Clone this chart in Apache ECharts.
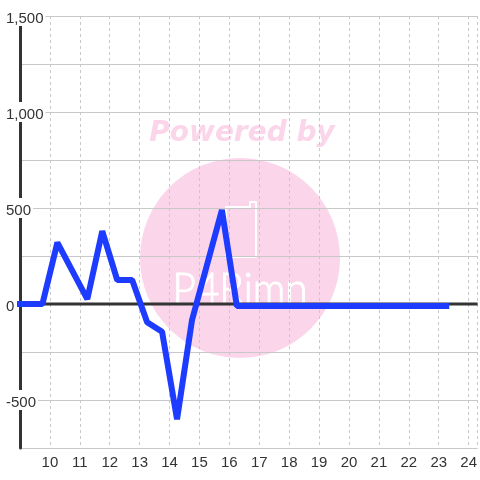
<!DOCTYPE html>
<html>
<head>
<meta charset="utf-8">
<script src="https://cdn.jsdelivr.net/npm/echarts@6/dist/echarts.min.js"></script>
<style>html,body{margin:0;padding:0;background:#fff}#c{width:480px;height:480px}</style>
</head>
<body>
<div id="c"></div>
<script>
// ---- data ----
const xValues = [9, 9.75, 10.25, 11.25, 11.75, 12.25, 12.75, 13.25, 13.75, 14.25, 14.75, 15.75, 16.25, 23.25];
const yValues = [0, 0, 320, 25, 380, 125, 125, -95, -145, -600, -85, 490, -10, -10];
const xMin = 9, xMax = 24.3, xStep = 1;
const yMin = -750, yMax = 1500, yStep = 250, yLabelStep = 500;
const zeroLineX = [xMin, xMax];
const zeroLineY = [0, 0];

const seriesData = xValues.map((x, i) => [x, yValues[i]]);
const zeroData = zeroLineX.map((x, i) => [x, zeroLineY[i]]);

const chart = echarts.init(document.getElementById('c'), null, {renderer: 'canvas'});
const font = "'Liberation Sans', Arial, sans-serif";
chart.setOption({
  backgroundColor: '#ffffff',
  animation: false,
  grid: {left: 20, right: 0, top: 16, bottom: 32, containLabel: false},
  graphic: [
    {type: 'circle', z: -10, shape: {cx: 240, cy: 258, r: 100}, style: {fill: '#fbd5ea'}},
    {type: 'text', z: -10, x: 242, y: 134, style: {text: 'Powered by', fill: '#fbd5ea', font: "italic bold 28px 'DejaVu Sans'", textAlign: 'center', textVerticalAlign: 'middle'}},
    {type: 'polygon', z: -9, shape: {points: [[226,207],[250,207],[250,202],[256,202],[256,257],[226,257]]}, style: {fill: 'none', stroke: '#ffffff', lineWidth: 2, lineJoin: 'round'}},
    {type: 'text', z: -9, x: 240, y: 290, scaleX: 0.92, originX: 0, originY: 0, style: {text: 'P4Rimn', fill: '#ffffff', stroke: '#ffffff', lineWidth: 1, font: "300 44px 'Lato'", textAlign: 'center', textVerticalAlign: 'middle'}}
  ],
  xAxis: {
    type: 'value', min: xMin, max: xMax, interval: xStep,
    axisLine: {show: false}, axisTick: {show: false},
    axisLabel: {showMinLabel: false, showMaxLabel: false, color: '#333', fontSize: 15, fontFamily: font, margin: 7},
    splitLine: {show: true, lineStyle: {color: '#c8c8c8', width: 1, type: [3, 3]}}
  },
  yAxis: {
    type: 'value', min: yMin, max: yMax, interval: yStep,
    axisLine: {show: true, lineStyle: {color: '#333', width: 3}},
    axisTick: {show: false},
    axisLabel: {
      align: 'left', margin: 16, color: '#333', fontSize: 15, fontFamily: font,
      formatter: v => (v % yLabelStep === 0) ? '{b|' + v.toLocaleString('en-US') + '}' : '',
      rich: {b: {backgroundColor: '#ffffff', padding: [5, 2, 0, 2], color: '#333', fontSize: 15, fontFamily: font}}
    },
    splitLine: {show: true, lineStyle: {color: '#c8c8c8', width: 1}}
  },
  series: [
    {type: 'line', z: 1, data: zeroData, symbol: 'none', silent: true, lineStyle: {color: '#333', width: 3}},
    {type: 'line', z: 2, data: seriesData, symbol: 'none', clip: false,
     lineStyle: {color: '#1e3cff', width: 6, cap: 'square', join: 'bevel'}}
  ]
});
</script>
</body>
</html>
